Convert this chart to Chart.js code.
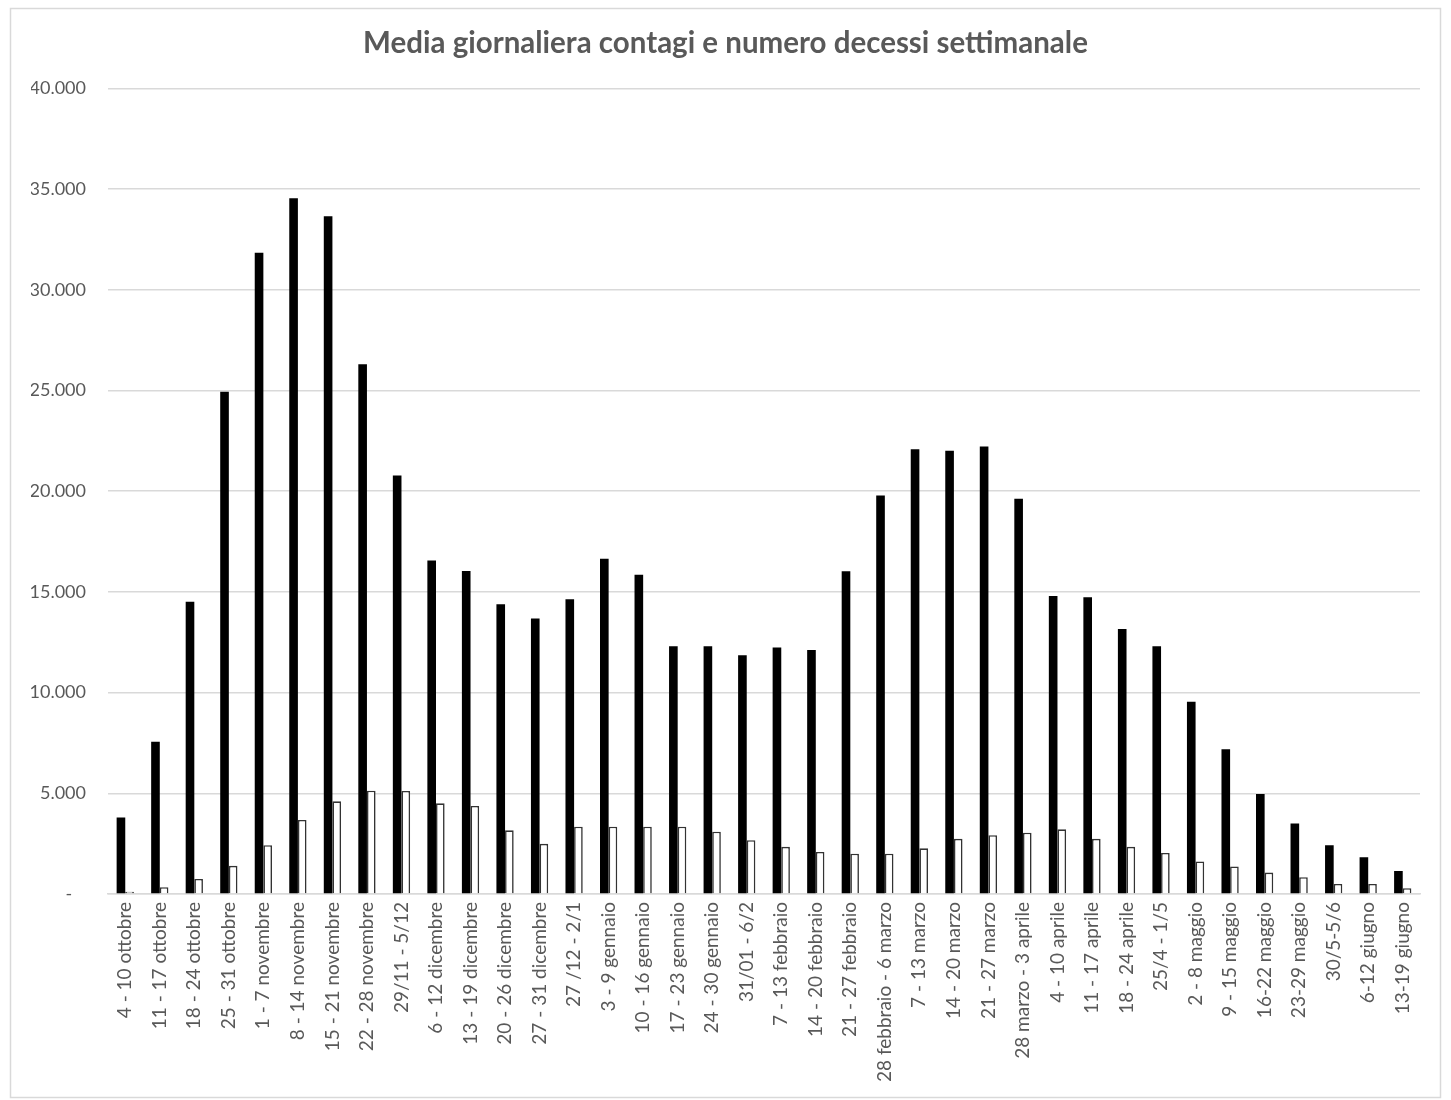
<!DOCTYPE html>
<html>
<head>
<meta charset="utf-8">
<script src="https://cdn.jsdelivr.net/npm/chart.js@4"></script>
<style>
  html, body { margin: 0; padding: 0; background: #fff; }
  #wrap { width: 1451px; height: 1100px; position: relative; }
</style>
</head>
<body>
<div id="wrap"><canvas id="c" width="1451" height="1100"></canvas></div>
<script>
const titleText = 'Media giornaliera contagi e numero decessi settimanale';

const categories = [
  '4 - 10 ottobre','11 - 17 ottobre','18 - 24 ottobre','25 - 31 ottobre',
  '1 - 7 novembre','8 - 14 novembre','15 - 21 novembre','22 - 28 novembre',
  '29/11 - 5/12','6 - 12 dicembre','13 - 19 dicembre','20 - 26 dicembre',
  '27 - 31 dicembre','27 /12 - 2/1','3 - 9 gennaio','10 - 16 gennaio',
  '17 - 23 gennaio','24 - 30 gennaio','31/01 - 6/2','7 - 13 febbraio',
  '14 - 20 febbraio','21 - 27 febbraio','28 febbraio - 6 marzo','7 - 13 marzo',
  '14 - 20 marzo','21 - 27 marzo','28 marzo - 3 aprile','4 - 10 aprile',
  '11 - 17 aprile','18 - 24 aprile','25/4 - 1/5','2 - 8 maggio',
  '9 - 15 maggio','16-22 maggio','23-29 maggio','30/5-5/6',
  '6-12 giugno','13-19 giugno'
];

const mediaContagi = [
  3800, 7560, 14510, 24940, 31845, 34540, 33650, 26300,
  20780, 16560, 16040, 14390, 13680, 14640, 16650, 15850,
  12300, 12300, 11850, 12240, 12120, 16030, 19790, 22080,
  22010, 22220, 19630, 14800, 14740, 13160, 12300, 9550,
  7190, 4960, 3500, 2420, 1820, 1140
];

const decessiSettimanali = [
  115, 335, 750, 1400, 2420, 3680, 4600, 5130,
  5120, 4500, 4370, 3160, 2490, 3340, 3340, 3340,
  3340, 3090, 2670, 2340, 2090, 2000, 2000, 2270,
  2740, 2920, 3040, 3210, 2740, 2340, 2035, 1615,
  1365, 1065, 835, 500, 500, 285
];

const yMin = 0, yMax = 40000, yStep = 5000;

function fmtIt(v) {
  if (v === 0) return '-   ';
  return String(v).replace(/\B(?=(\d{3})+(?!\d))/g, '.');
}

const frame = {
  id: 'frame',
  beforeDraw(chart) {
    const ctx = chart.ctx;
    ctx.save();
    ctx.fillStyle = '#ffffff';
    ctx.fillRect(0, 0, chart.width, chart.height);
    ctx.strokeStyle = '#d9d9d9';
    ctx.lineWidth = 1.5;
    ctx.strokeRect(10.5, 8.5, 1430, 1089);
    ctx.restore();
  }
};

new Chart(document.getElementById('c'), {
  type: 'bar',
  data: {
    labels: categories,
    datasets: [
      {
        label: 'Media giornaliera contagi',
        data: mediaContagi,
        backgroundColor: '#000000',
        borderWidth: 0,
        categoryPercentage: 0.5,
        barPercentage: 1.0
      },
      {
        label: 'Decessi settimanali',
        data: decessiSettimanali,
        backgroundColor: '#ffffff',
        borderColor: '#333333',
        borderWidth: 1.6,
        categoryPercentage: 0.5,
        barPercentage: 1.0
      }
    ]
  },
  options: {
    responsive: false,
    animation: false,
    devicePixelRatio: 1,
    layout: { padding: { left: 31, right: 31, top: 18, bottom: 10 } },
    plugins: {
      legend: { display: false },
      tooltip: { enabled: false },
      title: {
        display: true,
        text: titleText,
        color: '#595959',
        font: { family: 'Lato', size: 29.5, weight: 'bold' },
        padding: { top: 8, bottom: 27 }
      }
    },
    scales: {
      x: {
        grid: { display: false, drawTicks: false },
        border: { display: true, color: '#d9d9d9', width: 1.5 },
        ticks: {
          color: '#595959',
          font: { family: 'Lato', size: 19 },
          autoSkip: false,
          maxRotation: 90,
          minRotation: 90,
          padding: 8
        },
        afterFit(scale) { scale.height = 196; }
      },
      y: {
        min: yMin,
        max: yMax,
        ticks: {
          stepSize: yStep,
          color: '#595959',
          font: { family: 'Lato', size: 18 },
          padding: 22,
          callback: (v) => fmtIt(v)
        },
        grid: { color: '#d9d9d9', lineWidth: 1.5, drawTicks: false },
        border: { display: false },
        afterFit(scale) { scale.width = 77; }
      }
    }
  },
  plugins: [frame]
});
</script>
</body>
</html>
